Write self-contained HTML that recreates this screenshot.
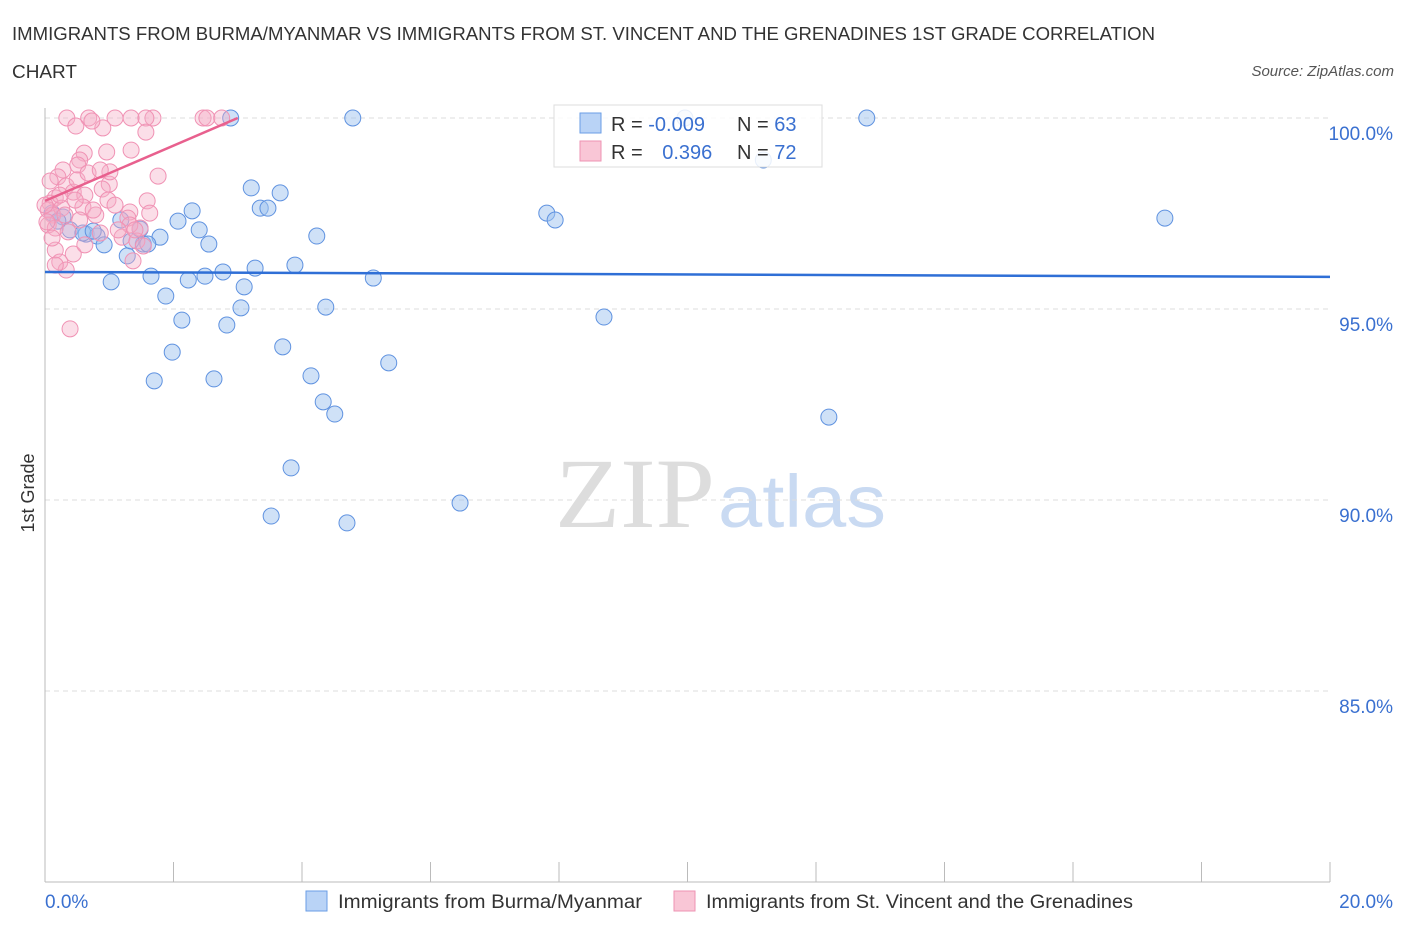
<!DOCTYPE html>
<html><head><meta charset="utf-8"><style>
body{margin:0;background:#fff;font-family:"Liberation Sans",sans-serif;}
svg text{font-family:"Liberation Sans",sans-serif;}
</style></head><body>
<svg id="chart" width="1406" height="930">
<text x="12" y="40" font-size="18" fill="#333" textLength="1143" lengthAdjust="spacingAndGlyphs">IMMIGRANTS FROM BURMA/MYANMAR VS IMMIGRANTS FROM ST. VINCENT AND THE GRENADINES 1ST GRADE CORRELATION</text>
<text x="12" y="78" font-size="18" fill="#333" textLength="65" lengthAdjust="spacingAndGlyphs">CHART</text>
<text x="1394" y="76" font-size="15" fill="#555" font-style="italic" text-anchor="end">Source: ZipAtlas.com</text>
<g>
<text x="555" y="527" font-size="100" fill="#ddd" textLength="160" lengthAdjust="spacingAndGlyphs" style="font-family:'Liberation Serif',serif">ZIP</text>
<text x="718" y="527" font-size="74" fill="#c9daf2" textLength="168" lengthAdjust="spacingAndGlyphs">atlas</text>
</g>
<g id="grid"></g>
<g id="axes"></g>
<g id="trends"></g>
<g id="points"></g>
<text transform="translate(34,493) rotate(-90)" font-size="18" fill="#333" text-anchor="middle">1st Grade</text>
<g>
<rect x="554" y="105" width="268" height="62" fill="#fff" fill-opacity="0.85" stroke="#ddd"/>
<rect x="580" y="113" width="21" height="20" fill="#b9d3f6" stroke="#6a9ee6"/>
<text x="611" y="131" font-size="20" fill="#333">R = <tspan fill="#3a70d0">-0.009</tspan></text>
<text x="737" y="131" font-size="20" fill="#333">N = <tspan fill="#3a70d0">63</tspan></text>
<rect x="580" y="141" width="21" height="20" fill="#f9c6d6" stroke="#ee93b3"/>
<text x="611" y="159" font-size="20" fill="#333">R = <tspan fill="#3a70d0" dx="14">0.396</tspan></text>
<text x="737" y="159" font-size="20" fill="#333">N = <tspan fill="#3a70d0">72</tspan></text>
</g>
<g>
<rect x="306" y="891" width="21" height="20" fill="#b9d3f6" stroke="#6a9ee6"/>
<text x="338" y="908" font-size="19" fill="#333" textLength="304" lengthAdjust="spacingAndGlyphs">Immigrants from Burma/Myanmar</text>
<rect x="674" y="891" width="21" height="20" fill="#f9c6d6" stroke="#ee93b3"/>
<text x="706" y="908" font-size="19" fill="#333" textLength="427" lengthAdjust="spacingAndGlyphs">Immigrants from St. Vincent and the Grenadines</text>
</g>
</svg>
<script>
const blueX=[2.89,4.79,12.79,9.96,11.18,3.21,3.66,3.35,3.47,2.29,2.07,1.18,0.28,0.11,0.39,0.64,0.81,0.59,0.92,1.28,1.53,1.34,1.79,2.40,2.55,4.23,7.81,7.94,17.43,3.89,3.27,2.77,2.49,2.23,1.65,1.03,3.10,5.11,1.88,3.05,4.37,2.13,2.83,8.70,3.70,1.98,5.35,4.14,1.70,2.63,4.33,4.51,12.20,3.83,6.46,3.52,4.70,0.20,0.75,1.48,1.60];
const blueY=[100,100,100,100,98.9,98.17,98.04,97.64,97.64,97.57,97.30,97.33,97.41,97.51,97.07,96.96,96.91,96.99,96.68,96.39,96.70,96.78,96.88,97.07,96.70,96.91,97.51,97.33,97.38,96.15,96.07,95.97,95.86,95.76,95.86,95.71,95.58,95.81,95.34,95.03,95.05,94.71,94.58,94.79,94.01,93.87,93.59,93.25,93.12,93.17,92.57,92.25,92.17,90.84,89.92,89.58,89.40,97.30,97.04,97.09,96.70];
const pinkX=[0.34,0.68,1.09,1.34,1.68,1.57,2.46,2.52,2.75,0.48,0.90,0.73,1.57,0.61,0.96,1.34,0.54,0.51,0.28,0.20,0.08,1.00,0.89,1.76,0.33,0.44,0.62,0.98,1.59,0.16,0.08,0.05,0.26,0.12,0.59,0.79,1.32,1.29,0.05,0.16,0.36,0.86,1.20,1.48,1.43,1.53,1.37,0.16,0.44,0.23,0.33,0.39,0.03,0.11,1.01,1.09,0.75,0.50,0.67,0,0.23,0.47,1.32,1.14,0.16,0.86,0.62,1.63,1.40,0.31,0.54];
const pinkY=[100,100,100,100,100,100,100,100,100,99.79,99.74,99.92,99.63,99.08,99.11,99.16,98.90,98.77,98.64,98.46,98.35,98.27,98.14,98.48,98.22,98.06,97.98,97.85,97.83,97.91,97.77,97.59,97.64,97.46,97.67,97.46,97.54,97.38,97.20,97.12,97.02,96.99,96.88,97.12,96.78,96.65,96.26,96.54,96.44,96.23,96.02,94.48,97.28,96.86,98.59,97.72,97.59,98.38,98.56,97.72,97.98,97.85,97.20,97.07,96.15,98.64,96.68,97.51,97.07,97.46,97.33];
const blueTrendX=[0,20], blueTrendY=[95.97,95.84];
const pinkTrendX=[0,3.0], pinkTrendY=[97.83,100.0];
const yTicks=[100,95,90,85];
const yTickLabels=["100.0%","95.0%","90.0%","85.0%"];
const xTicks=[0,2,4,6,8,10,12,14,16,18,20];
const NS="http://www.w3.org/2000/svg";
const sx=v=>45+v*64.25;
const sy=v=>118+(100-v)*38.2;
function mk(tag,attrs,parent){const e=document.createElementNS(NS,tag);for(const k in attrs)e.setAttribute(k,attrs[k]);parent.appendChild(e);return e;}
const grid=document.getElementById('grid'),axes=document.getElementById('axes'),tr=document.getElementById('trends'),pts=document.getElementById('points');
yTicks.forEach((t,i)=>{
 const l=mk('line',{x1:45,x2:1330,y1:sy(t),y2:sy(t),stroke:'#ddd','stroke-dasharray':'5,4'},grid);
 
 
 const tx=mk('text',{x:1393,y:sy(t)+22,'font-size':19,fill:'#3a70d0','text-anchor':'end'},axes);
 tx.textContent=yTickLabels[i];
 
 
});
const xa=mk('line',{x1:45,x2:1330,y1:882,y2:882,stroke:'#bbb'},axes);


const ya=mk('line',{x1:45,x2:45,y1:108,y2:882,stroke:'#bbb'},axes);


xTicks.forEach(t=>{
 const l=mk('line',{x1:sx(t),x2:sx(t),y1:862,y2:882,stroke:'#bbb'},axes);
 
 
});
const xl0=mk('text',{x:45,y:908,'font-size':19,fill:'#3a70d0'},axes);xl0.textContent=xTicks[0].toFixed(1)+"%";


const xl1=mk('text',{x:1393,y:908,'font-size':19,fill:'#3a70d0','text-anchor':'end'},axes);xl1.textContent=xTicks[xTicks.length-1].toFixed(1)+"%";


blueX.forEach((x,i)=>{
 const c=mk('circle',{cx:sx(x),cy:sy(blueY[i]),r:8,fill:'rgba(160,195,240,0.5)',stroke:'#5f92e0','stroke-width':1},pts);
 
 
});
pinkX.forEach((x,i)=>{
 const c=mk('circle',{cx:sx(x),cy:sy(pinkY[i]),r:8,fill:'rgba(246,172,198,0.4)',stroke:'#f092b4','stroke-width':1},pts);
 
 
});
const bt=mk('line',{x1:sx(blueTrendX[0]),y1:sy(blueTrendY[0]),x2:sx(blueTrendX[1]),y2:sy(blueTrendY[1]),stroke:'#2f6fd6','stroke-width':2.5},pts);


const pt=mk('line',{x1:sx(pinkTrendX[0]),y1:sy(pinkTrendY[0]),x2:sx(pinkTrendX[1]),y2:sy(pinkTrendY[1]),stroke:'#e8608e','stroke-width':2.5},pts);


</script>
</body></html>
